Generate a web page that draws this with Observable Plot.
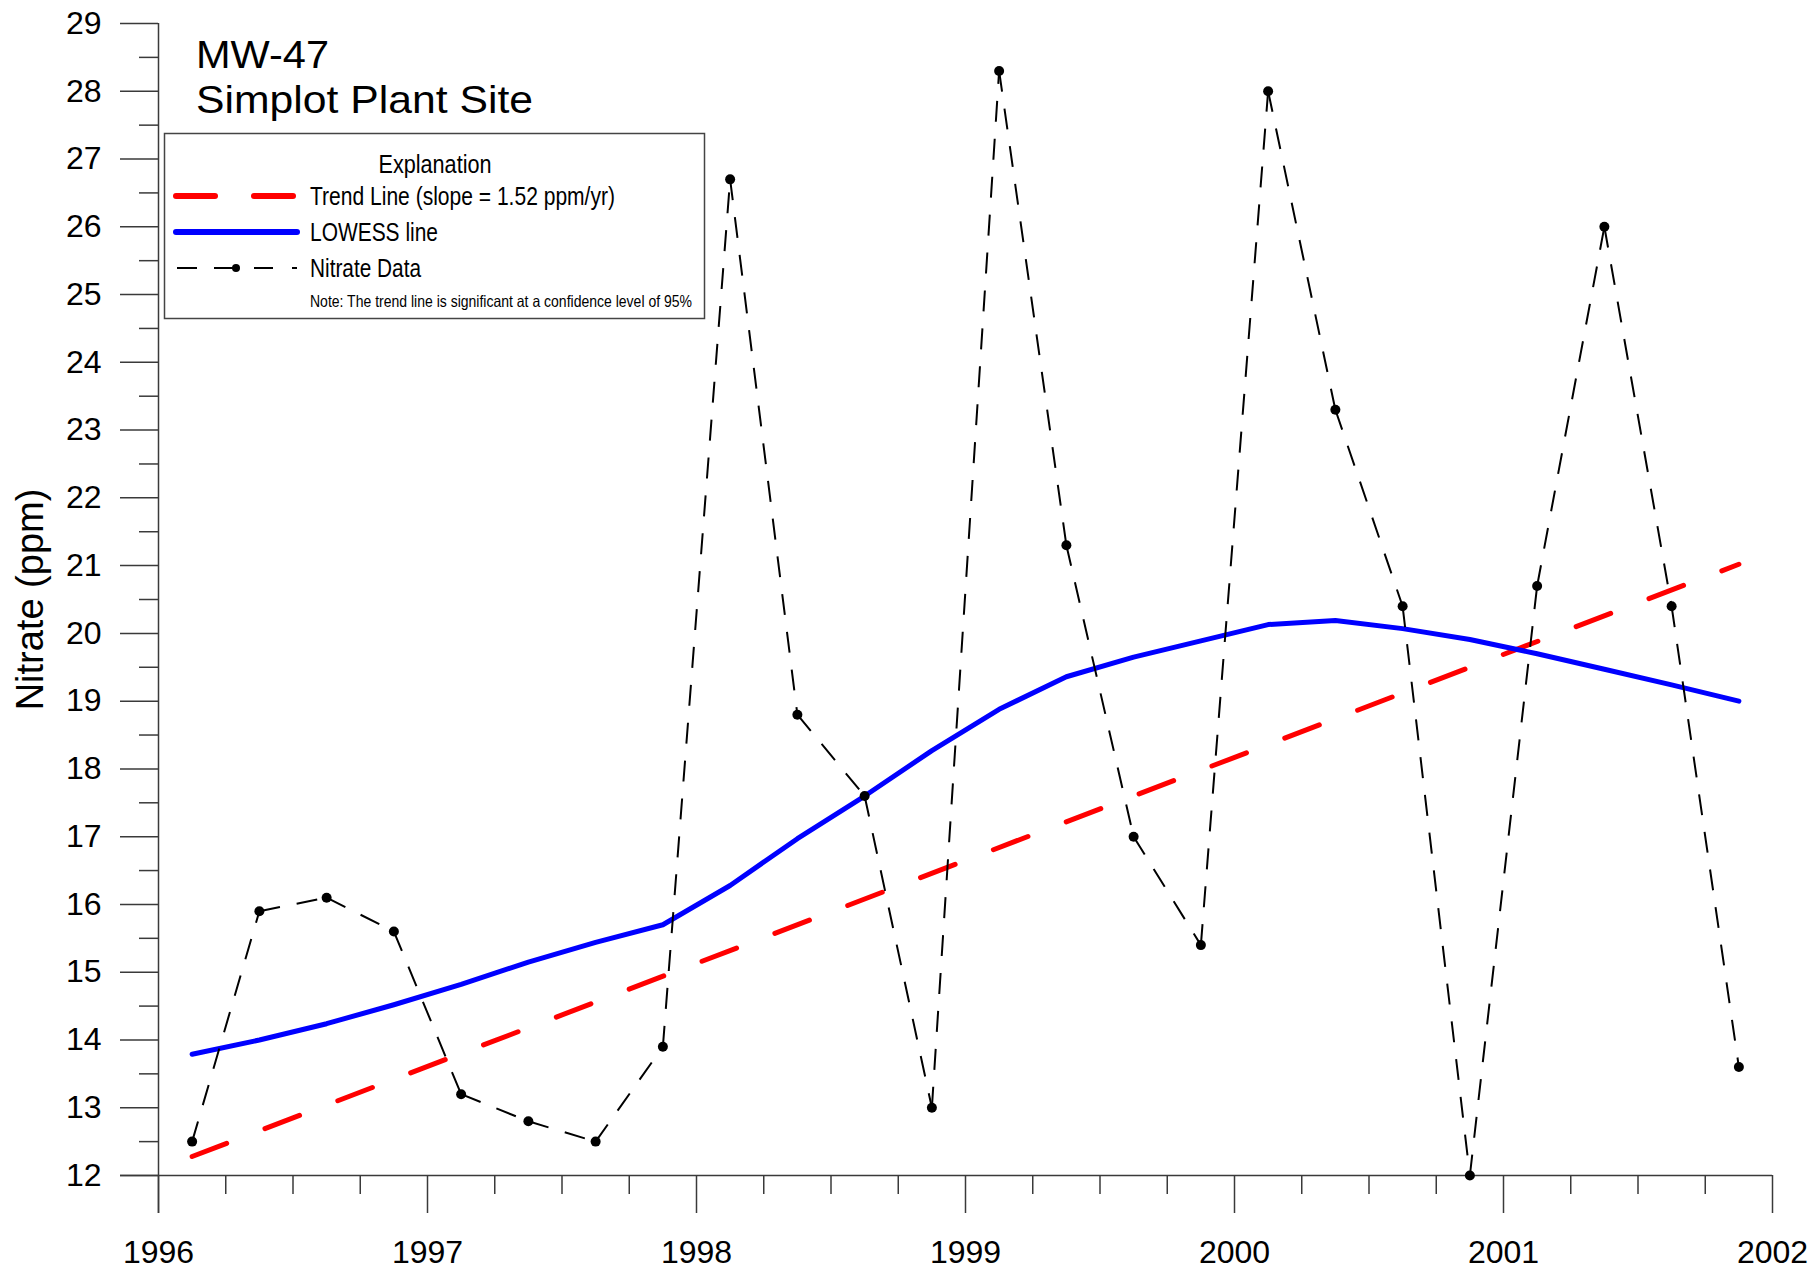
<!DOCTYPE html>
<html>
<head>
<meta charset="utf-8">
<script src="https://cdn.jsdelivr.net/npm/d3@7"></script>
<script src="https://cdn.jsdelivr.net/npm/@observablehq/plot@0.6"></script>
<style>
  html, body { margin: 0; padding: 0; background: #fff; }
  #wrap { position: relative; width: 1818px; height: 1273px; }
  #overlay { position: absolute; left: 0; top: 0; pointer-events: none; }
</style>
</head>
<body>
<div id="wrap"></div>
<script>
// ---- data ----
const sampleYears = [1996.125, 1996.375, 1996.625, 1996.875,
                     1997.125, 1997.375, 1997.625, 1997.875,
                     1998.125, 1998.375, 1998.625, 1998.875,
                     1999.125, 1999.375, 1999.625, 1999.875,
                     2000.125, 2000.375, 2000.625, 2000.875,
                     2001.125, 2001.375, 2001.625, 2001.875];
const nitrate = [12.5, 15.9, 16.1, 15.6,
                 13.2, 12.8, 12.5, 13.9,
                 26.7, 18.8, 17.6, 13.0,
                 28.3, 21.3, 17.0, 15.4,
                 28.0, 23.3, 20.4, 12.0,
                 20.7, 26.0, 20.4, 13.6];
const lowess = [13.79, 14.0, 14.24, 14.52,
                14.82, 15.15, 15.44, 15.70,
                16.28, 16.97, 17.60, 18.27,
                18.88, 19.36, 19.65, 19.89,
                20.13, 20.19, 20.07, 19.91,
                19.70, 19.47, 19.24, 19.00];
const trendYears = [1996.125, 2001.875];
const trendValues = [12.28, 21.02];
const yTicks = [12, 13, 14, 15, 16, 17, 18, 19, 20, 21, 22, 23, 24, 25, 26, 27, 28, 29];
const xTicks = [1996, 1997, 1998, 1999, 2000, 2001, 2002];
const yMinor = yTicks.slice(0, -1).map(d => d + 0.5);
const xMinor = xTicks.slice(0, -1).flatMap(d => [d + 0.25, d + 0.5, d + 0.75]);

const titleLines = ["MW-47", "Simplot Plant Site"];
const legendTitle = "Explanation";
const legendLabels = ["Trend Line (slope = 1.52 ppm/yr)", "LOWESS line", "Nitrate Data"];
const legendNote = "Note: The trend line is significant at a confidence level of 95%";
const yLabel = "Nitrate (ppm)";

// ---- tables ----
const points = sampleYears.map((x, i) => ({x, y: nitrate[i]}));
const segments = points.slice(0, -1).map((p, i) => ({x1: p.x, y1: p.y, x2: points[i + 1].x, y2: points[i + 1].y}));
const lowessPts = sampleYears.map((x, i) => ({x, y: lowess[i]}));
const trendPts = trendYears.map((x, i) => ({x, y: trendValues[i]}));

const axisColor = "#3a3a3a";

const chart = Plot.plot({
  width: 1818,
  height: 1273,
  marginLeft: 158,
  marginRight: 46,
  marginTop: 23,
  marginBottom: 98,
  style: {fontFamily: "'Liberation Sans', Arial, sans-serif", fontSize: "32px", background: "white", color: "black"},
  x: {domain: [1996, 2002], label: null},
  y: {domain: [12, 29], label: null},
  marks: [
    // axis lines (extend past the origin like the reference)
    Plot.ruleX([1996], {stroke: axisColor, strokeWidth: 1.5, insetBottom: -38}),
    Plot.ruleY([12], {stroke: axisColor, strokeWidth: 1.5, insetLeft: -38}),
    // major / minor ticks
    Plot.axisY({ticks: yTicks, tickSize: 38, tickPadding: 19, fontSize: 32, stroke: axisColor, strokeWidth: 1.5, tickFormat: d => String(d), fill: "black"}),
    Plot.axisY({ticks: yMinor, tickSize: 19, stroke: axisColor, strokeWidth: 1.5, tickFormat: () => ""}),
    Plot.axisX({ticks: xTicks, tickSize: 38, tickPadding: 27, fontSize: 32, stroke: axisColor, strokeWidth: 1.5, tickFormat: d => String(d), fill: "black"}),
    Plot.axisX({ticks: xMinor, tickSize: 19, stroke: axisColor, strokeWidth: 1.5, tickFormat: () => ""}),
    // y label
    Plot.text([yLabel], {frameAnchor: "left", textAnchor: "middle", rotate: -90, dx: -128, fontSize: 38, lineAnchor: "middle", fill: "black"}),
    // trend line
    Plot.line(trendPts, {x: "x", y: "y", stroke: "#ff0000", strokeWidth: 5, strokeDasharray: "37,41", strokeLinecap: "round"}),
    // LOWESS
    Plot.line(lowessPts, {x: "x", y: "y", stroke: "#0000ff", strokeWidth: 5, strokeLinejoin: "round", strokeLinecap: "round"}),
    // nitrate data (dash pattern restarts at each sample)
    Plot.link(segments, {x1: "x1", y1: "y1", x2: "x2", y2: "y2", stroke: "black", strokeWidth: 2, strokeDasharray: "21,17"}),
    Plot.dot(points, {x: "x", y: "y", r: 5, fill: "black"})
  ]
});

const wrap = document.getElementById("wrap");
wrap.appendChild(chart);

// ---- overlay: title + explanation box ----
const ns = "http://www.w3.org/2000/svg";
const ov = document.createElementNS(ns, "svg");
ov.setAttribute("id", "overlay");
ov.setAttribute("width", 1818);
ov.setAttribute("height", 1273);
wrap.appendChild(ov);
function el(tag, attrs, text) {
  const e = document.createElementNS(ns, tag);
  for (const k in attrs) e.setAttribute(k, attrs[k]);
  if (text != null) e.textContent = text;
  ov.appendChild(e);
  return e;
}
const sans = "'Liberation Sans', Arial, sans-serif";
const narrowAttrs = {"font-family": sans, fill: "black", lengthAdjust: "spacingAndGlyphs"};
el("text", {x: 196, y: 68, "font-family": sans, "font-size": 39, fill: "black", textLength: 133, lengthAdjust: "spacingAndGlyphs"}, titleLines[0]);
el("text", {x: 196, y: 113, "font-family": sans, "font-size": 39, fill: "black", textLength: 337, lengthAdjust: "spacingAndGlyphs"}, titleLines[1]);

el("rect", {x: 164.5, y: 133.5, width: 540, height: 185, fill: "white", stroke: "#444", "stroke-width": 1.5});
el("text", {...narrowAttrs, x: 378.5, y: 173, "font-size": 25, textLength: 113}, legendTitle);
el("text", {...narrowAttrs, x: 310, y: 205, "font-size": 25.5, textLength: 305}, legendLabels[0]);
el("text", {...narrowAttrs, x: 310, y: 241, "font-size": 25.5, textLength: 128}, legendLabels[1]);
el("text", {...narrowAttrs, x: 310, y: 277, "font-size": 25.5, textLength: 111}, legendLabels[2]);
el("text", {...narrowAttrs, x: 310, y: 307, "font-size": 16.5, textLength: 382}, legendNote);

// swatches
el("line", {x1: 176, y1: 196, x2: 215, y2: 196, stroke: "#ff0000", "stroke-width": 6, "stroke-linecap": "round"});
el("line", {x1: 254, y1: 196, x2: 293, y2: 196, stroke: "#ff0000", "stroke-width": 6, "stroke-linecap": "round"});
el("line", {x1: 176, y1: 232, x2: 297, y2: 232, stroke: "#0000ff", "stroke-width": 6, "stroke-linecap": "round"});
[[177, 197], [214, 236], [254, 273], [292, 297]].forEach(([a, b]) =>
  el("line", {x1: a, y1: 268, x2: b, y2: 268, stroke: "black", "stroke-width": 2}));
el("circle", {cx: 236, cy: 268, r: 4, fill: "black"});
</script>
</body>
</html>
